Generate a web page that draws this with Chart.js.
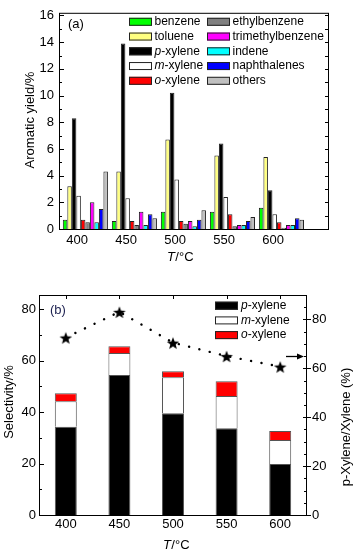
<!DOCTYPE html>
<html><head><meta charset="utf-8">
<script src="https://cdn.jsdelivr.net/npm/chart.js@4.4.1/dist/chart.umd.min.js"></script>
<style>
html,body{margin:0;padding:0;background:#fff;}
#wrap{position:relative;width:358px;height:555px;overflow:hidden;background:#fff;}
#c1{position:absolute;left:0;top:0;}
#c2{position:absolute;left:0;top:275px;}
</style></head><body>
<div id="wrap">
<canvas id="c1" width="358" height="275"></canvas>
<canvas id="c2" width="358" height="280"></canvas>
</div>
<script>
// ---------- data ----------
const temperatures = [400, 450, 500, 550, 600];
const tempLabels = ['400', '450', '500', '550', '600'];
const yieldTicks = [0, 2, 4, 6, 8, 10, 12, 14, 16];
const benzene          = [0.7, 0.6, 1.3, 1.3, 1.6];
const toluene          = [3.2, 4.3, 6.7, 5.5, 5.4];
const pXylene          = [8.3, 13.9, 10.2, 6.4, 2.9];
const mXylene          = [2.5, 2.3, 3.7, 2.4, 1.1];
const oXylene          = [0.7, 0.6, 0.6, 1.1, 0.5];
const ethylbenzene     = [0.5, 0.3, 0.4, 0.2, 0.1];
const trimethylbenzene = [2.0, 1.3, 0.6, 0.3, 0.3];
const indene           = [0.5, 0.3, 0.2, 0.3, 0.3];
const naphthalenes     = [1.5, 1.1, 0.7, 0.6, 0.8];
const others           = [4.3, 0.8, 1.4, 0.9, 0.7];

const selP = [34.3, 54.4, 39.5, 33.7, 19.8];
const selM = [9.9, 8.6, 14.0, 12.5, 9.3];
const selO = [3.1, 2.6, 2.4, 5.8, 3.5];
const pRatio = [72.6, 83.1, 70.5, 65.0, 60.7];
const selTicks = [0, 20, 40, 60, 80];
const ratioTicks = [0, 20, 40, 60, 80];

// ---------- styles ----------
const FONT = '"Liberation Sans", Arial, Helvetica, sans-serif';
Chart.defaults.font.family = FONT;
Chart.defaults.color = '#000';

const seriesA = [
  ['benzene', benzene, '#00ff00'],
  ['toluene', toluene, '#ffff80'],
  ['p-xylene', pXylene, '#000000'],
  ['m-xylene', mXylene, '#ffffff'],
  ['o-xylene', oXylene, '#ff0000'],
  ['ethylbenzene', ethylbenzene, '#808080'],
  ['trimethylbenzene', trimethylbenzene, '#ff00ff'],
  ['indene', indene, '#00ffff'],
  ['naphthalenes', naphthalenes, '#0000ff'],
  ['others', others, '#c0c0c0']
];

function drawLabel(ctx, x, y, label, size) {
  ctx.textBaseline = 'middle';
  ctx.textAlign = 'left';
  ctx.fillStyle = '#000';
  const m = /^([pmo])(-.*)$/.exec(label);
  if (m) {
    ctx.font = `italic ${size}px ${FONT}`;
    ctx.fillText(m[1], x, y);
    const w = ctx.measureText(m[1]).width;
    ctx.font = `${size}px ${FONT}`;
    ctx.fillText(m[2], x + w, y);
  } else {
    ctx.font = `${size}px ${FONT}`;
    ctx.fillText(label, x, y);
  }
}
function drawTC(ctx, cx, cy, size) {
  ctx.textBaseline = 'middle';
  ctx.textAlign = 'left';
  ctx.fillStyle = '#000';
  ctx.font = `italic ${size}px ${FONT}`;
  const w1 = ctx.measureText('T').width;
  ctx.font = `${size}px ${FONT}`;
  const w2 = ctx.measureText('/\u00B0C').width;
  const x0 = cx - (w1 + w2) / 2;
  ctx.font = `italic ${size}px ${FONT}`;
  ctx.fillText('T', x0, cy);
  ctx.font = `${size}px ${FONT}`;
  ctx.fillText('/\u00B0C', x0 + w1 + 0.5, cy);
}
function rotText(ctx, text, cx, cy, size) {
  ctx.save();
  ctx.translate(cx, cy);
  ctx.rotate(-Math.PI / 2);
  ctx.textAlign = 'center';
  ctx.textBaseline = 'middle';
  ctx.font = `${size}px ${FONT}`;
  ctx.fillStyle = '#000';
  ctx.fillText(text, 0, 0);
  ctx.restore();
}
function hTick(ctx, x, y, x2) {
  ctx.beginPath(); ctx.moveTo(x, Math.round(y) + 0.5); ctx.lineTo(x2, Math.round(y) + 0.5); ctx.stroke();
}
function vTick(ctx, x, y, y2) {
  ctx.beginPath(); ctx.moveTo(Math.round(x) + 0.5, y); ctx.lineTo(Math.round(x) + 0.5, y2); ctx.stroke();
}

// ---------- chart (a) ----------
const decoA = {
  id: 'decoA',
  afterDraw(chart) {
    const ctx = chart.ctx, a = chart.chartArea, ys = chart.scales.y;
    ctx.save();
    ctx.strokeStyle = '#000'; ctx.lineWidth = 1;
    ctx.strokeRect(a.left + 0.5, a.top + 0.5, a.right - a.left - 1, a.bottom - a.top);
    for (let v = 0; v <= 16; v++) {
      const py = ys.getPixelForValue(v);
      hTick(ctx, a.left, py, a.left + (v % 2 === 0 ? 5 : 3));
      hTick(ctx, a.right - 4, py, a.right);
    }
    rotText(ctx, 'Aromatic yield/%', 30, 120, 13);
    drawTC(ctx, 180, 257, 13);
    ctx.font = `13px ${FONT}`; ctx.textBaseline = 'middle'; ctx.textAlign = 'left'; ctx.fillStyle = '#000';
    ctx.fillText('(a)', a.left + 9, a.top + 12);
    // legend
    seriesA.forEach((s, i) => {
      const col = i < 5 ? 0 : 1, row = i % 5;
      const sx = a.left + (col ? 148 : 70);
      const cy = a.top + 9 + row * 14.75;
      ctx.fillStyle = s[2];
      ctx.fillRect(sx, cy - 4, 23, 8);
      ctx.strokeStyle = '#222';
      ctx.strokeRect(sx + 0.5, cy - 3.5, 22, 7);
      drawLabel(ctx, sx + 25.5, cy, s[0], 12);
    });
    ctx.restore();
  }
};

const chartA = new Chart(document.getElementById('c1'), {
  type: 'bar',
  data: {
    datasets: seriesA.map(s => ({
      label: s[0],
      data: temperatures.map((t, i) => ({ x: t, y: s[1][i] })),
      backgroundColor: s[2],
      borderColor: '#222',
      borderWidth: 1,
      xAxisID: 'xb',
      categoryPercentage: 0.92,
      barPercentage: 1.0
    }))
  },
  options: {
    responsive: false, animation: false, devicePixelRatio: 1,
    layout: { padding: { top: 10, right: 29, left: 0, bottom: 0 } },
    plugins: { legend: { display: false }, tooltip: { enabled: false } },
    scales: {
      x: {
        type: 'linear', min: 381.6, max: 657, position: 'bottom', offset: false,
        afterBuildTicks: s => { s.ticks = temperatures.map(v => ({ value: v })); },
        ticks: { font: { size: 13 }, color: '#000', padding: 4, maxRotation: 0, autoSkip: false },
        grid: { display: false, drawTicks: false, offset: false }, border: { display: false },
        afterFit: s => { s.height = 46; }
      },
      xb: {
        type: 'linear', display: false, offset: false, min: 381.6 - 8.5, max: 657 - 8.5,
        grid: { offset: false },
        afterBuildTicks: s => { s.ticks = temperatures.map(v => ({ value: v })); }
      },
      y: {
        min: 0, max: 16.2, position: 'left',
        afterBuildTicks: s => { s.ticks = yieldTicks.map(v => ({ value: v })); },
        ticks: { font: { size: 13 }, color: '#000', padding: 5 },
        grid: { display: false, drawTicks: false }, border: { display: false },
        afterFit: s => { s.width = 59; }
      }
    }
  },
  plugins: [decoA]
});

// ---------- chart (b) ----------
function makeStar(r) {
  const c = document.createElement('canvas');
  const s = Math.ceil(r * 2 + 2);
  c.width = s; c.height = s;
  const g = c.getContext('2d');
  g.fillStyle = '#000';
  g.beginPath();
  for (let i = 0; i < 10; i++) {
    const ang = -Math.PI / 2 + i * Math.PI / 5;
    const rr = i % 2 ? r * 0.42 : r;
    g.lineTo(s / 2 + rr * Math.cos(ang), s / 2 + 1 + rr * Math.sin(ang));
  }
  g.closePath(); g.fill();
  return c;
}
const starImg = makeStar(6.6);

const seriesB = [
  ['p-xylene', selP, '#000000'],
  ['m-xylene', selM, '#ffffff'],
  ['o-xylene', selO, '#ff0000']
];

const decoB = {
  id: 'decoB',
  afterDraw(chart) {
    const ctx = chart.ctx, a = chart.chartArea, ys = chart.scales.y, y2 = chart.scales.y2, xs = chart.scales.x;
    ctx.save();
    ctx.strokeStyle = '#000'; ctx.lineWidth = 1;
    ctx.strokeRect(a.left + 0.5, a.top + 0.5, a.right - a.left - 1, a.bottom - a.top);
    for (let v = 0; v <= 80; v += 10) {
      const py = ys.getPixelForValue(v);
      hTick(ctx, a.left, py, a.left + (v % 20 === 0 ? 5 : 3));
    }
    for (let v = 0; v <= 90; v += 5) {
      const py = y2.getPixelForValue(v);
      if (v % 20 === 0) hTick(ctx, a.right - 4, py, a.right + 4);
      else hTick(ctx, a.right - 3, py, a.right);
    }
    tempLabels.forEach((t, i) => {
      const px = xs.getPixelForValue(i);
      vTick(ctx, px, a.top, a.top + 4);
    });
    // arrow
    const ay = Math.round(y2.getPixelForValue(65)) + 0.5;
    ctx.lineWidth = 1.3;
    ctx.beginPath(); ctx.moveTo(a.right - 21, ay); ctx.lineTo(a.right - 8, ay); ctx.stroke();
    ctx.fillStyle = '#000';
    ctx.beginPath(); ctx.moveTo(a.right - 3, ay); ctx.lineTo(a.right - 10, ay - 3); ctx.lineTo(a.right - 10, ay + 3); ctx.closePath(); ctx.fill();
    rotText(ctx, 'Selectivity/%', 9, 127, 13);
    rotText(ctx, 'p-Xylene/Xylene (%)', 346, 152, 13);
    drawTC(ctx, 176, 270, 13);
    ctx.font = `13px ${FONT}`; ctx.textBaseline = 'middle'; ctx.textAlign = 'left'; ctx.fillStyle = '#1c2050';
    ctx.fillText('(b)', a.left + 11, a.top + 15);
    seriesB.forEach((s, i) => {
      const sx = a.left + 176;
      const cy = a.top + 10.7 + i * 14.7;
      ctx.fillStyle = s[2];
      ctx.fillRect(sx, cy - 4, 23, 8);
      ctx.strokeStyle = '#222'; ctx.lineWidth = 1;
      ctx.strokeRect(sx + 0.5, cy - 3.5, 22, 7);
      drawLabel(ctx, sx + 26, cy, s[0], 12);
    });
    ctx.restore();
  }
};

const chartB = new Chart(document.getElementById('c2'), {
  type: 'bar',
  data: {
    labels: tempLabels,
    datasets: seriesB.map(s => ({
      label: s[0], data: s[1], backgroundColor: s[2],
      borderColor: '#555', borderWidth: 1,
      yAxisID: 'y', categoryPercentage: 1.0, barPercentage: 0.41
    })).concat([{
      type: 'line', label: 'p-Xylene/Xylene', data: pRatio, yAxisID: 'y2',
      borderColor: '#000', borderWidth: 2.4, borderDash: [0.1, 10.5], borderCapStyle: 'round',
      pointStyle: starImg, pointRadius: 7, fill: false, tension: 0, order: -1
    }])
  },
  options: {
    responsive: false, animation: false, devicePixelRatio: 1,
    layout: { padding: { top: 20, right: 0, left: 0, bottom: 0 } },
    plugins: { legend: { display: false }, tooltip: { enabled: false } },
    scales: {
      x: {
        type: 'category', stacked: true, offset: true,
        ticks: { font: { size: 13 }, color: '#000', padding: 2, maxRotation: 0, autoSkip: false },
        grid: { display: false, drawTicks: false }, border: { display: false },
        afterFit: s => { s.height = 40; }
      },
      y: {
        stacked: true, min: 0, max: 85.5, position: 'left',
        afterBuildTicks: s => { s.ticks = selTicks.map(v => ({ value: v })); },
        ticks: { font: { size: 13 }, color: '#000', padding: 3 },
        grid: { display: false, drawTicks: false }, border: { display: false },
        afterFit: s => { s.width = 39; }
      },
      y2: {
        min: 0, max: 90, position: 'right',
        afterBuildTicks: s => { s.ticks = ratioTicks.map(v => ({ value: v })); },
        ticks: { font: { size: 13 }, color: '#000', padding: 5 },
        grid: { display: false, drawTicks: false }, border: { display: false },
        afterFit: s => { s.width = 51; }
      }
    }
  },
  plugins: [decoB]
});
</script>
</body></html>
